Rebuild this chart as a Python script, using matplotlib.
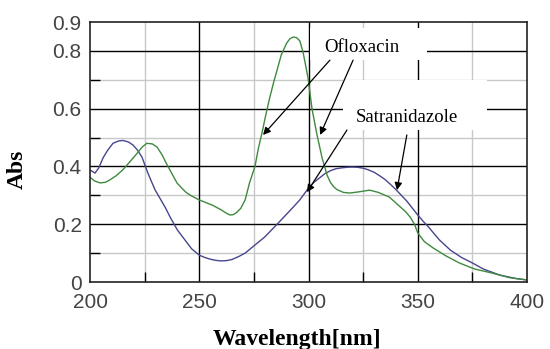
import matplotlib
matplotlib.use("Agg")
import matplotlib.pyplot as plt
from matplotlib.patches import Rectangle
from matplotlib.ticker import FixedLocator

# Satranidazole (blue)
sat_wl = [200, 202.3, 204, 206, 208, 210.5, 213, 215, 217.5, 219.7, 221.8, 223.8, 226.5, 229.7,
          234.3, 237, 240, 243.5, 246.5, 250, 252.5, 255, 257.5, 260, 262.5, 265, 268, 271,
          275, 280, 285, 290, 292.5, 296, 300, 302.5, 305, 307.5, 310, 312.5, 315, 317.5, 320,
          322.5, 325, 327.5, 330, 332.5, 335, 337.5, 340, 342.5, 345, 347.5, 350, 352.5, 355,
          357.5, 360, 365, 370, 375, 380, 387.5, 395, 400]
sat_abs = [0.388, 0.377, 0.395, 0.43, 0.455, 0.48, 0.488, 0.49, 0.485, 0.474, 0.456, 0.432,
           0.377, 0.32, 0.26, 0.22, 0.18, 0.145, 0.115, 0.093, 0.085, 0.079, 0.075, 0.073, 0.074,
           0.078, 0.088, 0.10, 0.125, 0.156, 0.195, 0.235, 0.255, 0.284, 0.325, 0.345, 0.36,
           0.375, 0.385, 0.392, 0.395, 0.397, 0.398, 0.397, 0.394, 0.388, 0.38, 0.368, 0.355,
           0.338, 0.32, 0.30, 0.28, 0.256, 0.232, 0.21, 0.19, 0.167, 0.145, 0.11, 0.085, 0.066,
           0.045, 0.024, 0.012, 0.007]

# Ofloxacin (green)
ofl_wl = [200, 202, 204.6, 207, 209, 212, 215, 218, 221.5, 224, 226, 228.5, 230.7, 233, 235,
          237.5, 239.8, 242, 244, 246, 248, 250, 253, 256, 260, 262, 264, 265.5, 267, 269, 271,
          273, 275.5, 277, 279, 280.5, 282, 284, 285.6, 287.5, 290, 291.5, 293, 294.5, 296,
          297.5, 299.8, 301.6, 303.9, 306.2, 308.5, 310, 311.5, 313, 316, 319, 323, 328, 332,
          337, 342, 344.5, 346.5, 348.5, 350, 353, 357, 363, 369, 376, 384, 392, 400]
ofl_abs = [0.363, 0.35, 0.343, 0.345, 0.353, 0.368, 0.388, 0.414, 0.445, 0.468, 0.48, 0.478,
           0.467, 0.44, 0.41, 0.375, 0.343, 0.325, 0.31, 0.30, 0.292, 0.284, 0.275, 0.266, 0.25,
           0.24, 0.232, 0.233, 0.24, 0.255, 0.284, 0.343, 0.40, 0.46, 0.526, 0.58, 0.63, 0.69,
           0.733, 0.785, 0.827, 0.842, 0.848, 0.846, 0.835, 0.796, 0.706, 0.60, 0.509, 0.43,
           0.37, 0.345, 0.33, 0.32, 0.31, 0.308, 0.312, 0.318, 0.31, 0.294, 0.26, 0.243, 0.225,
           0.2, 0.17, 0.14, 0.118, 0.09, 0.066, 0.045, 0.031, 0.015, 0.007]

x_ticks = [200, 250, 300, 350, 400]
x_tick_labels = ["200", "250", "300", "350", "400"]
y_ticks = [0, 0.2, 0.4, 0.6, 0.8, 0.9]
y_tick_labels = ["0", "0.2", "0.4", "0.6", "0.8", "0.9"]
x_minor = [225, 275, 325, 375]
y_minor = [0.1, 0.3, 0.5, 0.7]

fig = plt.figure(figsize=(5.5, 3.49), dpi=100)
ax = fig.add_axes([90/550, 1-282/349, (527-90)/550, (282-22)/349])

ax.set_xlim(200, 400)
ax.set_ylim(0, 0.9)

# grid
for v in x_minor:
    ax.axvline(v, color="#c8c8c8", lw=1.0, zorder=1)
for v in y_minor:
    ax.axhline(v, color="#c8c8c8", lw=1.0, zorder=1)
for v in [250, 300, 350]:
    ax.axvline(v, color="black", lw=1.0, zorder=1.5)
for v in [0.2, 0.4, 0.6, 0.8]:
    ax.axhline(v, color="black", lw=1.0, zorder=1.5)

# white label boxes hiding the grid
ax.add_patch(Rectangle((300.9, 0.768), 354.2-300.9, 0.879-0.768, facecolor="white",
                       edgecolor="none", zorder=2))
ax.add_patch(Rectangle((315.8, 0.526), 381.7-315.8, 0.699-0.526, facecolor="white",
                       edgecolor="none", zorder=2))

ax.plot(sat_wl, sat_abs, color="#46468e", lw=1.0, zorder=3)
ax.plot(ofl_wl, ofl_abs, color="#3f8a3f", lw=1.0, zorder=3)

ax.set_xticks(x_ticks)
ax.set_xticklabels(x_tick_labels)
ax.set_yticks(y_ticks)
ax.set_yticklabels(y_tick_labels)
ax.xaxis.set_minor_locator(FixedLocator(x_minor))
ax.yaxis.set_minor_locator(FixedLocator(y_minor))
ax.tick_params(which="major", length=0, pad=6, labelsize=15, labelcolor="#444444")
for lab in ax.get_xticklabels() + ax.get_yticklabels():
    lab.set_fontfamily("Liberation Sans")
ax.tick_params(which="minor", direction="in", length=7, width=1.0, color="black",
               top=False, right=False)
ax.tick_params(axis="x", pad=8)

for s in ax.spines.values():
    s.set_linewidth(1.2)
    s.set_color("#222222")
    s.set_zorder(4)

serif = "Liberation Serif"
ax.text(324.5, 0.812, "Ofloxacin", family=serif, fontsize=13.5, ha="center", va="center", zorder=5)
ax.text(345, 0.568, "Satranidazole", family=serif, fontsize=13.5, ha="center", va="center", zorder=5)

arrows = [((309.8, 0.768), (279.2, 0.509)),
          ((320.4, 0.768), (305.3, 0.509)),
          ((317.6, 0.526), (299.3, 0.311)),
          ((345.0, 0.509), (340.5, 0.318))]
for start, tip in arrows:
    ax.annotate("", xy=tip, xytext=start,
                arrowprops=dict(arrowstyle="-|>", color="black", lw=0.9,
                                mutation_scale=11, shrinkA=0, shrinkB=0), zorder=5)

fig.text(17/550, 1-169/349, "Abs", rotation=90, family=serif, fontweight="bold",
         fontsize=17, ha="center", va="center")
fig.text(297/550, 1-339/349, "Wavelength[nm]", family=serif, fontweight="bold",
         fontsize=17, ha="center", va="center")

fig.savefig("out.png", dpi=100)
